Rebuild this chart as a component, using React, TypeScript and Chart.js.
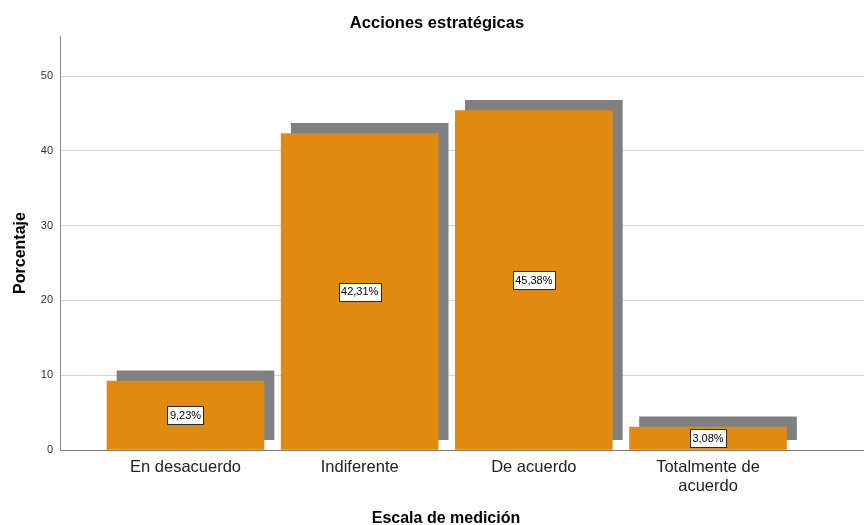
import React, { useEffect, useRef } from "react";
import { Chart, registerables } from "chart.js";

Chart.register(...registerables);

const CATEGORIES: (string | string[])[] = [
  "En desacuerdo",
  "Indiferente",
  "De acuerdo",
  ["Totalmente de", "acuerdo"],
];
const PERCENTAGES = [9.23, 42.31, 45.38, 3.08];
const Y_TICKS = [0, 10, 20, 30, 40, 50];
const TITLE = "Acciones estratégicas";
const Y_TITLE = "Porcentaje";
const X_TITLE = "Escala de medición";

const ORANGE = "#E08B10";
const SHADOW = "#808080";
const FONT = "'Liberation Sans', Arial, sans-serif";

// shadow offset in scale units (style only)
const SHADOW_DX = 0.0575;
const SHADOW_DY = 1.37;

const fmt = (v: number) => v.toFixed(2).replace(".", ",") + "%";

const textPlugin = {
  id: "textPlugin",
  afterDatasetsDraw(chart: any) {
    const ctx = chart.ctx;
    const meta = chart.getDatasetMeta(0);
    ctx.save();
    ctx.font = `11px ${FONT}`;
    ctx.textAlign = "center";
    ctx.textBaseline = "middle";
    meta.data.forEach((el: any, i: number) => {
      const label = fmt(PERCENTAGES[i]);
      const cx = el.x;
      const cy = (el.y + el.base) / 2;
      const w = ctx.measureText(label).width + 5;
      const h = 18;
      ctx.fillStyle = "#ffffff";
      ctx.fillRect(Math.round(cx - w / 2) + 0.5, Math.round(cy - h / 2) + 0.5, Math.round(w), h);
      ctx.strokeStyle = "#2a2a2a";
      ctx.lineWidth = 1;
      ctx.strokeRect(Math.round(cx - w / 2) + 0.5, Math.round(cy - h / 2) + 0.5, Math.round(w), h);
      ctx.fillStyle = "#000000";
      ctx.fillText(label, cx, cy + 0.5);
    });
    ctx.restore();
  },
  afterDraw(chart: any) {
    const ctx = chart.ctx;
    ctx.save();
    ctx.fillStyle = "#000000";
    ctx.textAlign = "center";
    ctx.textBaseline = "alphabetic";
    ctx.font = `bold 16.5px ${FONT}`;
    ctx.fillText(TITLE, 437, 28);
    ctx.font = `bold 16px ${FONT}`;
    ctx.fillText(X_TITLE, 446, 523);
    ctx.translate(25, 253);
    ctx.rotate(-Math.PI / 2);
    ctx.fillText(Y_TITLE, 0, 0);
    ctx.restore();
  },
};

export default function App() {
  const ref = useRef<HTMLCanvasElement>(null);

  useEffect(() => {
    document.body.style.margin = "0";
    const canvas = ref.current!;
    const chart = new Chart(canvas, {
      type: "bar",
      data: {
        datasets: [
          {
            label: "Porcentaje",
            data: PERCENTAGES.map((v, i) => ({ x: i, y: v })),
            backgroundColor: ORANGE,
            borderWidth: 0,
            barThickness: 157,
            grouped: false,
          } as any,
          {
            label: "shadow",
            data: PERCENTAGES.map((v, i) => ({
              x: i + SHADOW_DX,
              y: [SHADOW_DY, v + SHADOW_DY],
            })),
            backgroundColor: SHADOW,
            borderWidth: 0,
            barThickness: 157,
            grouped: false,
          } as any,
        ],
      },
      options: {
        animation: false,
        responsive: false,
        maintainAspectRatio: false,
        layout: { padding: { top: 36, right: 0, left: 0, bottom: 0 } },
        plugins: {
          legend: { display: false },
          title: { display: false },
          tooltip: { enabled: false },
        },
        scales: {
          x: {
            type: "linear",
            offset: false,
            min: -0.7206,
            max: 3.8956,
            grid: { display: false, drawTicks: false, offset: false },
            border: { display: true, color: "#7a7a7a", width: 1 },
            afterBuildTicks: (scale: any) => {
              scale.ticks = CATEGORIES.map((_, i) => ({ value: i }));
            },
            afterFit: (scale: any) => {
              scale.height = 75;
            },
            ticks: {
              autoSkip: false,
              maxRotation: 0,
              minRotation: 0,
              padding: 8,
              color: "#222222",
              font: { family: FONT, size: 16.5, lineHeight: 1.15 },
              callback: (v: any) => CATEGORIES[Math.round(Number(v))] as any,
            },
          },
          y: {
            type: "linear",
            min: 0,
            max: 55.35,
            grid: {
              color: "#d4d4d4",
              lineWidth: 1,
              drawTicks: false,
            },
            border: { display: true, color: "#8a8a8a", width: 1 },
            afterBuildTicks: (scale: any) => {
              scale.ticks = Y_TICKS.map((v) => ({ value: v }));
            },
            afterFit: (scale: any) => {
              scale.width = 60;
            },
            ticks: {
              padding: 7,
              color: "#333333",
              font: { family: FONT, size: 11 },
            },
          },
        },
      } as any,
      plugins: [textPlugin],
    });
    return () => chart.destroy();
  }, []);

  return (
    <div style={{ position: "fixed", left: 0, top: 0, width: 864, height: 525, background: "#fff" }}>
      <canvas ref={ref} width={864} height={525} style={{ width: 864, height: 525 }} />
    </div>
  );
}
